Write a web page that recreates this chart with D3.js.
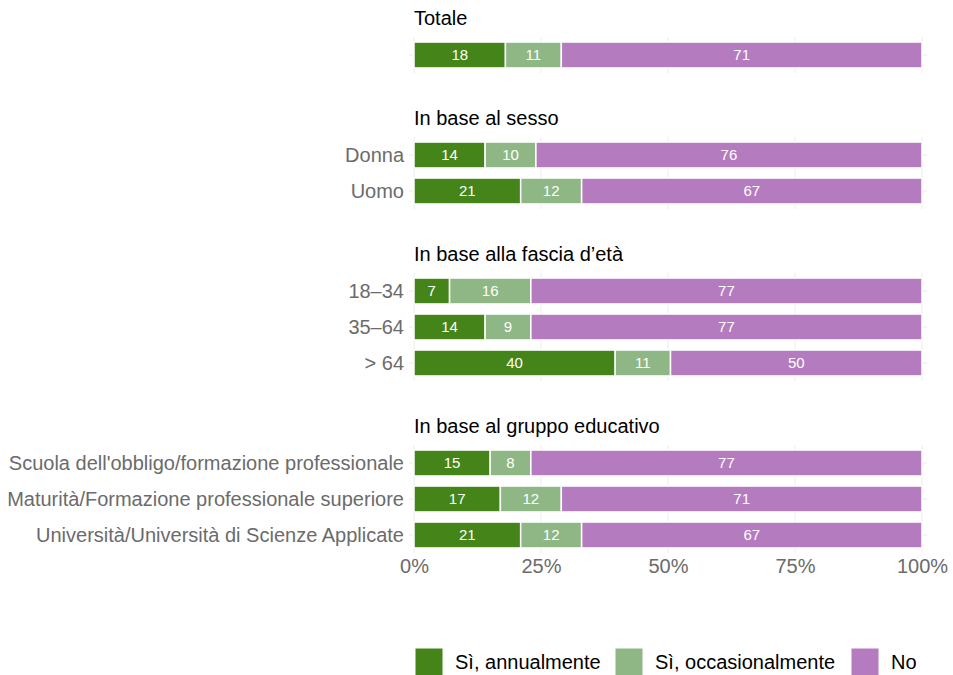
<!DOCTYPE html>
<html>
<head>
<meta charset="utf-8">
<script src="https://cdn.jsdelivr.net/npm/d3@7"></script>
<style>
  body { margin: 0; background: #fff; }
  text { font-family: "Liberation Sans", Arial, Helvetica, sans-serif; }
</style>
</head>
<body>
<svg id="chart"></svg>
<script>
// dati
const groups = ["Totale", "In base al sesso", "In base alla fascia d\u2019età", "In base al gruppo educativo"];
const categories = [
  ["Totale"],
  ["Donna", "Uomo"],
  ["18\u201334", "35\u201364", "> 64"],
  ["Scuola dell'obbligo/formazione professionale", "Maturità/Formazione professionale superiore", "Università/Università di Scienze Applicate"]
];
const seriesNames = ["Sì, annualmente", "Sì, occasionalmente", "No"];
const annualmente    = [[18], [14, 21], [7, 14, 40], [15, 17, 21]];
const occasionalmente = [[11], [10, 12], [16, 9, 11], [8, 12, 12]];
const no             = [[71], [76, 67], [77, 77, 50], [77, 71, 67]];
const xTicks = [0, 0.25, 0.5, 0.75, 1];

const colors = ["#458419", "#8fb785", "#b57bbf"];

const width = 953, height = 675;
const svg = d3.select("#chart").attr("width", width).attr("height", height);

const x = d3.scaleLinear().domain([0, 1]).range([414, 922]);
const step = 36;     // altezza riga
const groupGap = 64; // spazio fra gruppi
const panelLeft = 409, panelRight = 927;
const fontSize = 20;

const color = d3.scaleOrdinal().domain(seriesNames).range(colors);

// posizione dei gruppi
let groupTop = 37;
const layout = groups.map((g, gi) => {
  const cats = categories[gi];
  const y = d3.scaleBand()
    .domain(cats)
    .range([groupTop, groupTop + cats.length * step])
    .paddingInner(0.28)
    .paddingOuter(0.14);
  const out = { title: g, cats: cats, y: y, top: groupTop, gi: gi };
  groupTop += cats.length * step + groupGap;
  return out;
});

layout.forEach(L => {
  const g = svg.append("g");
  const y0 = L.top, y1 = L.top + L.cats.length * step;

  // griglia (molto chiara)
  g.selectAll("line.v").data(xTicks).enter().append("line")
    .attr("x1", d => x(d)).attr("x2", d => x(d))
    .attr("y1", y0).attr("y2", y1)
    .attr("stroke", "#ebebeb").attr("stroke-width", 1);
  g.selectAll("line.h").data(L.cats).enter().append("line")
    .attr("x1", panelLeft).attr("x2", panelRight)
    .attr("y1", d => L.y(d) + L.y.bandwidth() / 2)
    .attr("y2", d => L.y(d) + L.y.bandwidth() / 2)
    .attr("stroke", "#ebebeb").attr("stroke-width", 1);

  // titolo del gruppo
  g.append("text")
    .attr("x", 414).attr("y", L.top - 12)
    .attr("font-size", fontSize).attr("fill", "#000")
    .text(L.title);

  // etichette categorie
  if (L.gi > 0) {
    g.selectAll("text.cat").data(L.cats).enter().append("text")
      .attr("x", 404)
      .attr("y", d => L.y(d) + L.y.bandwidth() / 2)
      .attr("dy", "0.35em")
      .attr("text-anchor", "end")
      .attr("font-size", fontSize)
      .attr("fill", "#6b6b6b")
      .text(d => d);
  }

  // righe impilate
  const rows = L.cats.map((c, i) => {
    const vals = [annualmente[L.gi][i], occasionalmente[L.gi][i], no[L.gi][i]];
    const tot = d3.sum(vals);
    let acc = 0;
    return vals.map((v, k) => {
      const seg = { cat: c, key: seriesNames[k], value: v, x0: acc / tot, x1: (acc + v) / tot };
      acc += v;
      return seg;
    });
  }).flat();

  g.selectAll("rect.bar").data(rows).enter().append("rect")
    .attr("x", d => x(d.x0))
    .attr("y", d => L.y(d.cat))
    .attr("width", d => x(d.x1) - x(d.x0))
    .attr("height", L.y.bandwidth())
    .attr("fill", d => color(d.key))
    .attr("stroke", "#fff")
    .attr("stroke-width", 1.5);

  g.selectAll("text.val").data(rows).enter().append("text")
    .attr("x", d => (x(d.x0) + x(d.x1)) / 2)
    .attr("y", d => L.y(d.cat) + L.y.bandwidth() / 2)
    .attr("dy", "0.35em")
    .attr("text-anchor", "middle")
    .attr("font-size", 15)
    .attr("fill", "#fff")
    .text(d => d.value);
});

// asse x
const last = layout[layout.length - 1];
const axisY = last.top + last.cats.length * step;
const xAxis = svg.append("g")
  .attr("transform", "translate(0," + axisY + ")")
  .call(d3.axisBottom(x).tickValues(xTicks).tickFormat(d3.format(".0%")).tickSize(0).tickPadding(6));
xAxis.select(".domain").remove();
xAxis.selectAll("text")
  .attr("font-size", fontSize)
  .attr("fill", "#6b6b6b")
  .attr("font-family", "Liberation Sans, Arial, sans-serif");

// legenda
const legendX = [415, 615, 851];
const legend = svg.append("g").attr("transform", "translate(0,648)");
const items = legend.selectAll("g").data(seriesNames).enter().append("g")
  .attr("transform", (d, i) => "translate(" + legendX[i] + ",0)");
items.append("rect")
  .attr("width", 28).attr("height", 28)
  .attr("fill", d => color(d))
  .attr("stroke", "#fff").attr("stroke-width", 1);
items.append("text")
  .attr("x", 40).attr("y", 14).attr("dy", "0.35em")
  .attr("font-size", fontSize).attr("fill", "#000")
  .text(d => d);
</script>
</body>
</html>
